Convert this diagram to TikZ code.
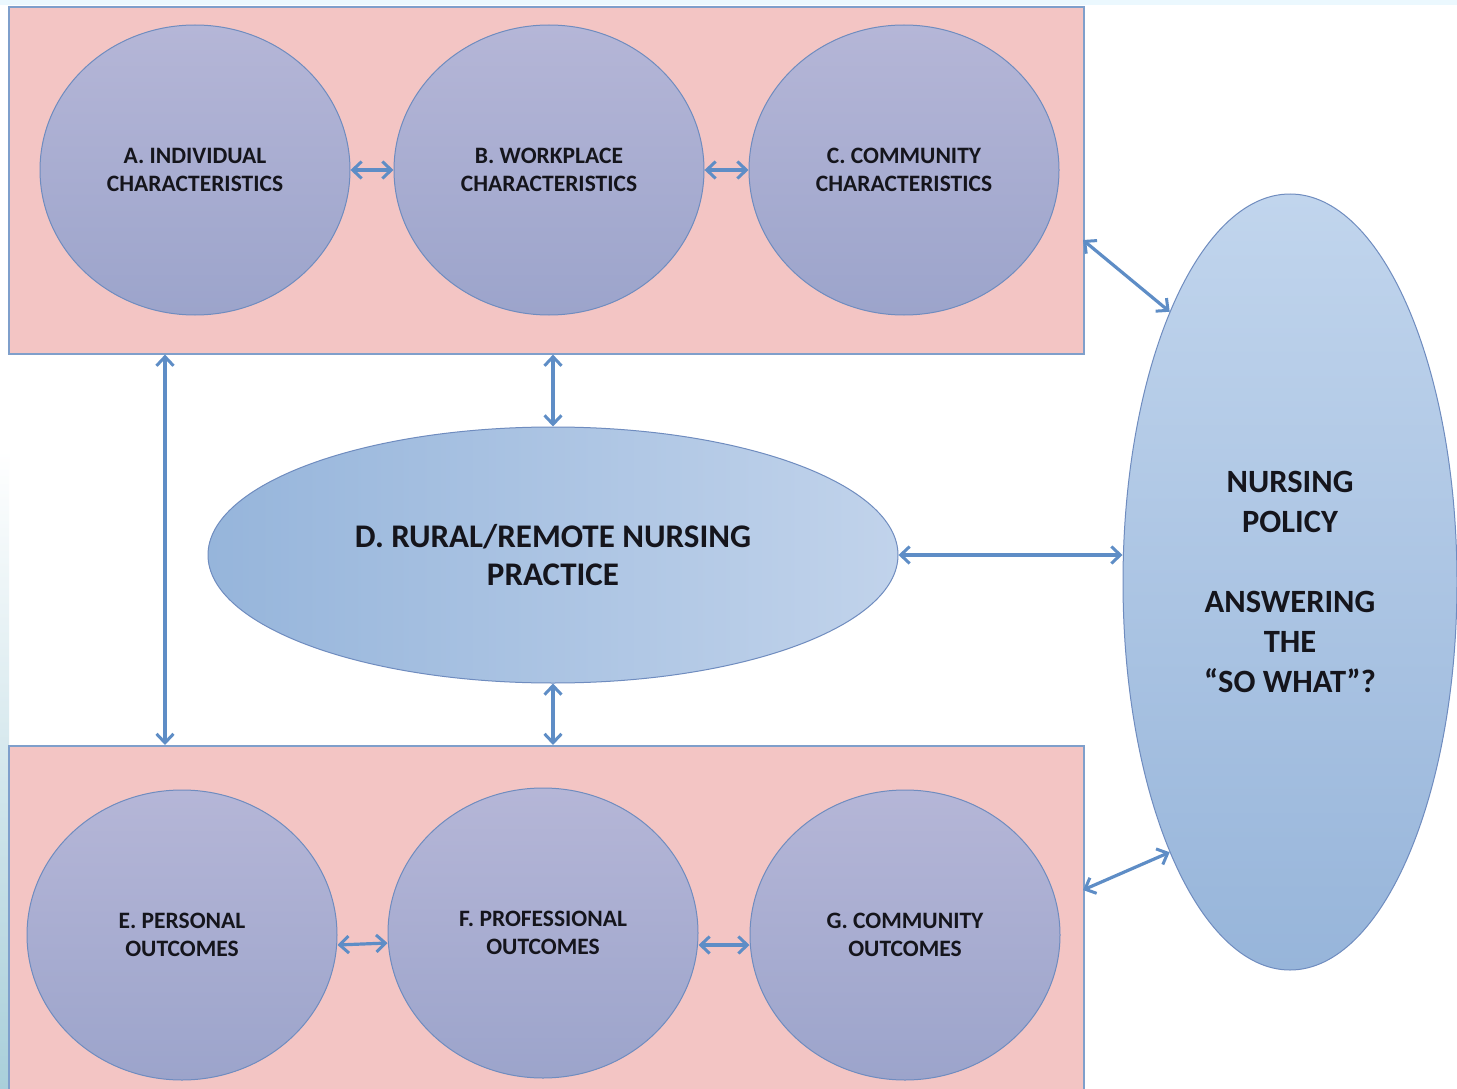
\documentclass[tikz,border=0pt]{standalone}
\usepackage{fontspec}
\setmainfont{Carlito}
\usetikzlibrary{shapes.geometric,arrows.meta}
\definecolor{pinkfill}{HTML}{F3C5C4}
\definecolor{rectline}{HTML}{7F9FCB}
\definecolor{circtop}{HTML}{B5B6D7}
\definecolor{circbot}{HTML}{9CA4CB}
\definecolor{circline}{HTML}{6F8CBF}
\definecolor{dleft}{HTML}{96B5DB}
\definecolor{dright}{HTML}{C1D3EB}
\definecolor{ptop}{HTML}{C1D5ED}
\definecolor{pbot}{HTML}{97B5DA}
\definecolor{arr}{HTML}{5E8DC6}
\definecolor{txt}{HTML}{15151C}
\definecolor{edgecyan}{HTML}{A9CFDA}
\begin{document}
\begin{tikzpicture}[x=1pt,y=-1pt,
  box/.style={draw=rectline,line width=1.6pt,fill=pinkfill,rectangle,inner sep=0pt,anchor=north west},
  circ/.style={ellipse,draw=circline,line width=1pt,top color=circtop,bottom color=circbot,
    minimum width=310pt,minimum height=290pt,inner sep=0pt,align=center,text=txt,
    font=\bfseries\fontsize{23.5}{28}\selectfont},
  tip/.tip={Straight Barb[length=9pt,width=17pt,line width=3pt]},
  link/.style={draw=arr,line width=3.2pt,tip-tip},
]
\useasboundingbox (0,0) rectangle (1457,1089);
\clip (0,0) rectangle (1457,1089);
\fill[white] (0,0) rectangle (1457,1089);
\shade[top color=white,bottom color=edgecyan] (0,450) rectangle (9,1089);
\fill[white!92!cyan] (0,0) rectangle (1457,5);

% boxes
\node[box,minimum width=1075pt,minimum height=347pt] (top) at (8,6) {};
\node[box,minimum width=1075pt,minimum height=360pt] (bot) at (8,745) {};

% circles
\node[circ] (A) at (195,170) {A. INDIVIDUAL\\CHARACTERISTICS};
\node[circ] (B) at (549,170) {B. WORKPLACE\\CHARACTERISTICS};
\node[circ] (C) at (904,170) {C. COMMUNITY\\CHARACTERISTICS};
\node[circ] (E) at (182,935) {E. PERSONAL\\OUTCOMES};
\node[circ] (F) at (543,933) {F. PROFESSIONAL\\OUTCOMES};
\node[circ] (G) at (905,935) {G. COMMUNITY\\OUTCOMES};

% D ellipse
\node[ellipse,draw=circline,line width=1pt,left color=dleft,right color=dright,
  minimum width=690pt,minimum height=256pt,inner sep=0pt,align=center,text=txt,
  font=\bfseries\fontsize{33}{38}\selectfont] (D) at (553,555) {D. RURAL/REMOTE NURSING\\PRACTICE};

% Policy ellipse
\node[ellipse,draw=circline,line width=1pt,top color=ptop,bottom color=pbot,
  minimum width=334pt,minimum height=776pt,inner sep=0pt,align=center,text=txt,
  font=\bfseries\fontsize{32.5}{40}\selectfont] (P) at (1290,582) {NURSING\\POLICY\\[40pt]ANSWERING\\THE\\“SO WHAT”?};

% coordinates for free ends
\coordinate (vl) at (165,0);
\coordinate (tA) at (1083,240);
\coordinate (bA) at (1083,890);

% connectors
\draw[link] (A.east) -- (B.west);
\draw[link] (B.east) -- (C.west);
\draw[link] ([yshift=-10pt]E.east) -- ([yshift=-10pt]F.west);
\draw[link] ([yshift=-12pt]F.east) -- ([yshift=-10pt]G.west);
\draw[link] (top.south -| vl) -- (bot.north -| vl);
\draw[link] (top.south -| D.north) -- (D.north);
\draw[link] (D.south) -- (bot.north -| D.south);
\draw[link] (D.east) -- (D.east -| P.west);
\draw[link] (tA) -- (P.114);
\draw[link] (bA) -- (P.246);
\end{tikzpicture}
\end{document}
